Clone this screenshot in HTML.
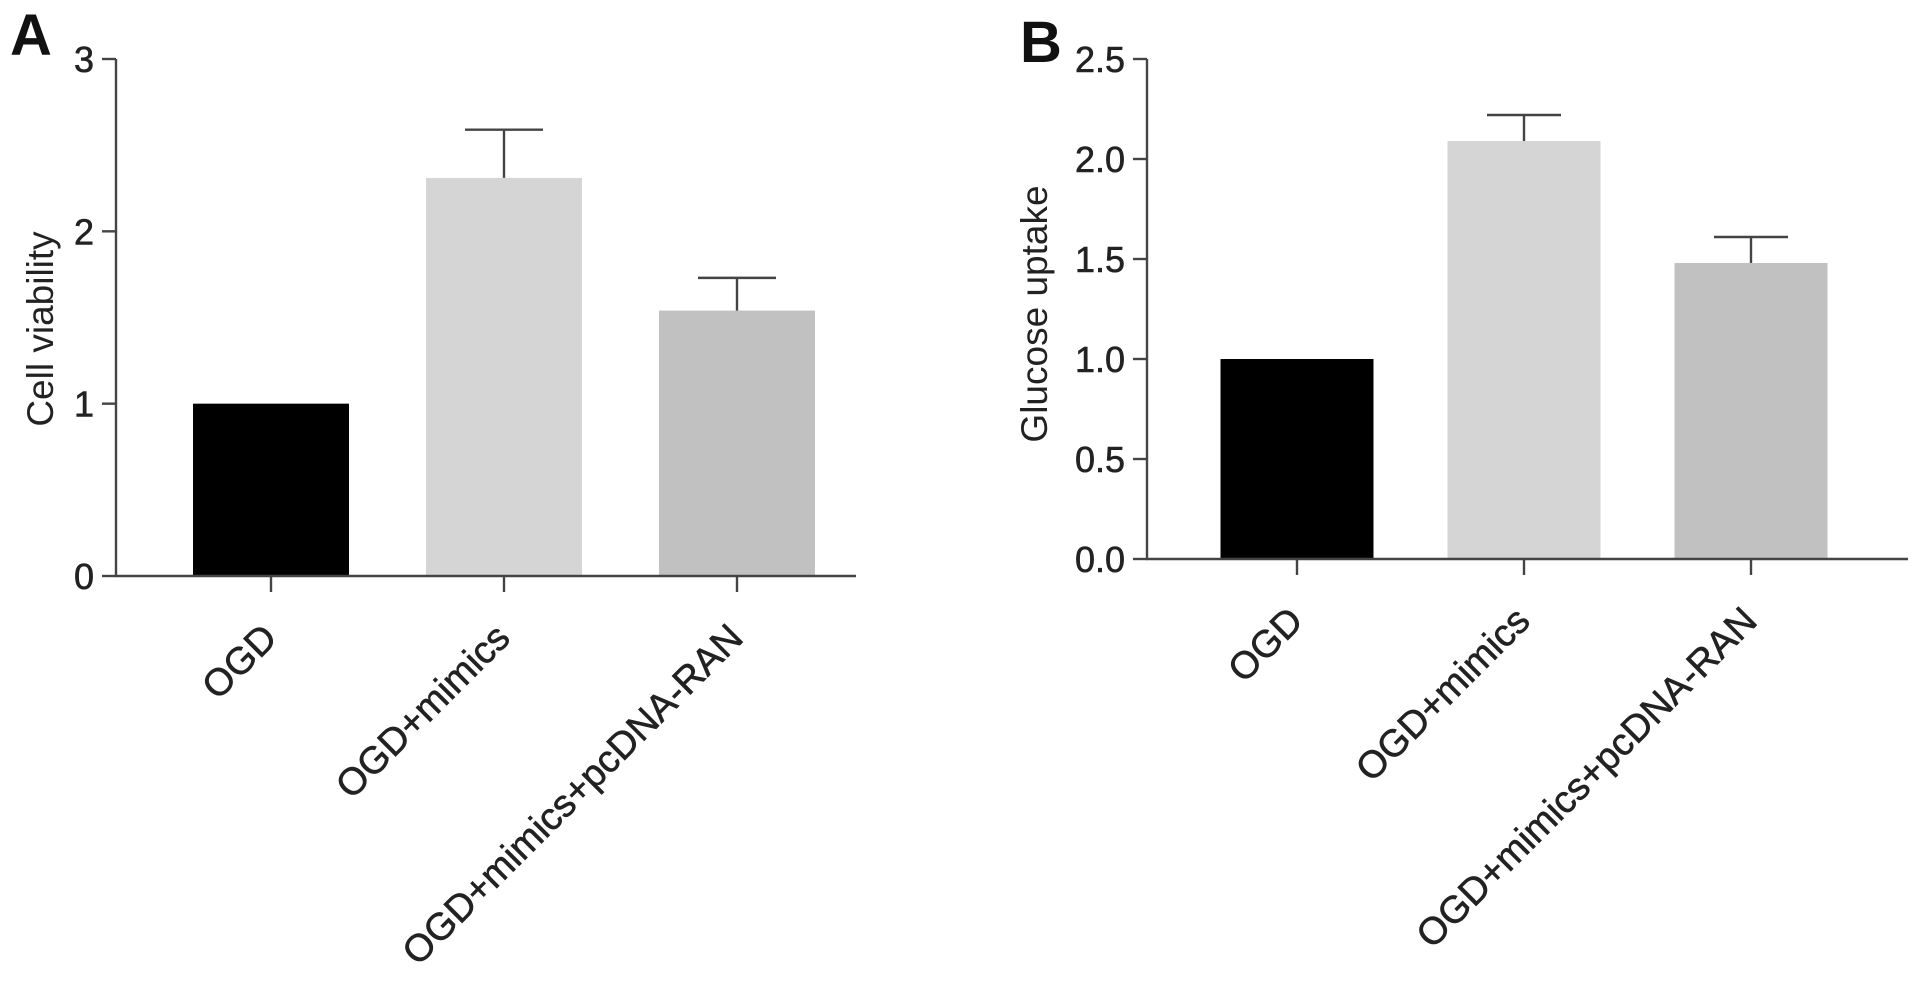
<!DOCTYPE html>
<html><head><meta charset="utf-8"><style>
html,body{margin:0;padding:0;background:#fff;}
svg{display:block;font-family:"Liberation Sans",Arial,sans-serif;}
</style></head><body>
<svg id="fig" width="1913" height="983" viewBox="0 0 1913 983">
<text x="10" y="55" font-size="58" font-weight="bold" fill="#111">A</text>
<text x="1020" y="62" font-size="58" font-weight="bold" fill="#111">B</text>
</svg>
<script>
const categories = ["OGD", "OGD+mimics", "OGD+mimics+pcDNA-RAN"];
const colors = ["#000000", "#d5d5d5", "#c1c1c1"];
const viabilityValues = [1.0, 2.31, 1.54];
const viabilityErrors = [0, 0.28, 0.19];
const viabilityTicks = ["0", "1", "2", "3"];
const viabilityTickValues = [0, 1, 2, 3];
const glucoseValues = [1.0, 2.09, 1.48];
const glucoseErrors = [0, 0.13, 0.13];
const glucoseTicks = ["0.0", "0.5", "1.0", "1.5", "2.0", "2.5"];
const glucoseTickValues = [0, 0.5, 1.0, 1.5, 2.0, 2.5];

const NS = "http://www.w3.org/2000/svg";
const svg = document.getElementById("fig");
function mk(tag, attrs, parent) {
  const e = document.createElementNS(NS, tag);
  for (const k in attrs) e.setAttribute(k, attrs[k]);
  (parent || svg).appendChild(e);
  return e;
}

function panel(cfg) {
  const g = mk("g", {});
  
  
  const y = v => cfg.y0 - (v - cfg.ymin) / (cfg.ymax - cfg.ymin) * (cfg.y0 - cfg.yTop);
  const cx = i => cfg.firstCenter + i * cfg.step;
  categories.forEach((c, i) => {
    const v = cfg.values[i];
    const r = mk("rect", {x: cx(i) - cfg.barW / 2, y: y(v), width: cfg.barW, height: cfg.y0 - y(v), fill: colors[i]}, g);
    
    
    const e = cfg.errors[i];
    if (e > 0) {
      const eb = mk("path", {d: `M${cx(i)},${y(v)} V${y(v + e)} M${cx(i) - cfg.capW / 2},${y(v + e)} H${cx(i) + cfg.capW / 2}`, stroke: "#444", "stroke-width": 2.4, fill: "none"}, g);
      
      
    }
    const t = mk("line", {x1: cx(i), x2: cx(i), y1: cfg.y0, y2: cfg.y0 + 16, stroke: "#444", "stroke-width": 2.4}, g);
    
    
    const lx = cx(i) + 8, ly = cfg.y0 + 64;
    const tx = mk("text", {x: lx, y: ly, "text-anchor": "end", "font-size": 38, fill: "#222", stroke: "#222", "stroke-width": 0.6, transform: `rotate(-45 ${lx} ${ly})`}, g);
    tx.textContent = c;
    
    
  });
  const ax = mk("path", {d: `M${cfg.xAxis},${cfg.yTop} V${cfg.y0} H${cfg.xEnd}`, stroke: "#444", "stroke-width": 2.4, fill: "none"}, g);
  
  
  cfg.tickValues.forEach((tv, j) => {
    const l = mk("line", {x1: cfg.xAxis - 14, x2: cfg.xAxis, y1: y(tv), y2: y(tv), stroke: "#444", "stroke-width": 2.4}, g);
    
    
    const t = mk("text", {x: cfg.xAxis - 22, y: y(tv) + 13, "text-anchor": "end", "font-size": 36, fill: "#222", stroke: "#222", "stroke-width": 0.6}, g);
    t.textContent = cfg.ticks[j];
    
    
  });
  const tt = mk("text", {x: cfg.titleX, y: cfg.titleY, "text-anchor": "middle", "font-size": 37, fill: "#222", transform: `rotate(-90 ${cfg.titleX} ${cfg.titleY})`}, g);
  tt.textContent = cfg.title;
  
  
}

panel({name: "cell-viability-chart", values: viabilityValues, errors: viabilityErrors, ticks: viabilityTicks, tickValues: viabilityTickValues,
  ymin: 0, ymax: 3, y0: 576, yTop: 59, xAxis: 116, xEnd: 856, firstCenter: 271, step: 233, barW: 156, capW: 78,
  title: "Cell viability", titleX: 53, titleY: 329});
panel({name: "glucose-uptake-chart", values: glucoseValues, errors: glucoseErrors, ticks: glucoseTicks, tickValues: glucoseTickValues,
  ymin: 0, ymax: 2.5, y0: 559, yTop: 59, xAxis: 1147, xEnd: 1908, firstCenter: 1297, step: 227, barW: 153, capW: 74,
  title: "Glucose uptake", titleX: 1047, titleY: 314});
</script>
</body></html>
